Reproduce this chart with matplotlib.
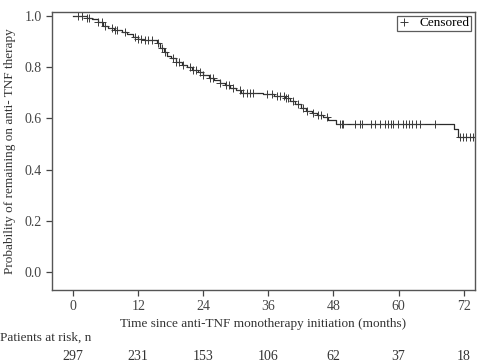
import numpy as np
import matplotlib
matplotlib.use('Agg')
import matplotlib.pyplot as plt

# Kaplan-Meier step data (time in months, survival after the step)
event_times = [0, 2.5, 3.5, 4.5, 5.5, 6.5, 7.5, 9, 10, 11, 12, 13, 15.5, 16, 16.7, 17.3,
               18, 19, 20, 21, 22, 23, 24, 25, 26, 27, 28, 29, 30, 31, 35, 37, 39, 40,
               41, 42, 43, 44, 45, 46, 47, 48.5, 70.2, 71]
survival = [1.0, 0.993, 0.987, 0.975, 0.962, 0.955, 0.945, 0.937, 0.93, 0.92, 0.91, 0.905,
            0.895, 0.875, 0.86, 0.845, 0.835, 0.822, 0.81, 0.80, 0.79, 0.78, 0.77, 0.76,
            0.75, 0.74, 0.73, 0.72, 0.71, 0.70, 0.695, 0.688, 0.68, 0.67, 0.655, 0.64,
            0.63, 0.622, 0.614, 0.605, 0.595, 0.578, 0.56, 0.527]
end_time = 74

censor_times = [0.9, 1.7, 2.6, 3.0, 4.6, 5.3, 5.9, 7.2, 7.7, 8.1, 9.6, 11.4, 12.0, 12.6,
                13.2, 13.8, 14.5, 15.7, 16.4, 16.9, 18.4, 19.0, 19.6, 20.3, 21.5, 22.1,
                22.7, 23.3, 24.0, 25.2, 25.8, 27.0, 28.2, 28.8, 29.5, 30.8, 31.4, 32.0,
                32.6, 33.1, 35.7, 36.6, 37.5, 38.2, 38.8, 39.3, 39.6, 40.5, 41.4, 42.3,
                43.2, 44.2, 45.1, 45.7, 46.8, 49.2, 49.5, 49.8, 51.9, 52.9, 53.2, 55.0,
                55.6, 56.5, 57.5, 58.1, 58.7, 59.0, 59.9, 60.8, 61.4, 62.0, 62.5, 63.3,
                63.9, 66.7, 71.3, 71.9, 72.5, 73.1, 73.7]

risk_times = [0, 12, 24, 36, 48, 60, 72]
at_risk = [297, 231, 153, 106, 62, 37, 18]

plt.rcParams['font.family'] = ['Liberation Serif', 'DejaVu Serif']

fig = plt.figure(figsize=(4.79, 3.62), dpi=100)
ax = fig.add_axes([0.1086, 0.1989, 0.883, 0.768])

line_col = '#2b2b2b'
xs = list(event_times) + [end_time]
ys = list(survival) + [survival[-1]]
ax.step(xs, ys, where='post', color=line_col, lw=0.9)

# censor marks sit on the curve
idx = np.searchsorted(event_times, censor_times, side='right') - 1
cens_y = np.array(survival)[idx]
ax.plot(censor_times, cens_y, ls='none', marker='+', ms=6, mew=0.7,
        color='#3a3a3a', label='Censored')

ax.set_xlim(-3.9, 74.1)
ax.set_ylim(-0.07, 1.016)
ax.set_xticks(risk_times)
ax.set_yticks([0.0, 0.2, 0.4, 0.6, 0.8, 1.0])
ax.yaxis.set_major_formatter(matplotlib.ticker.FormatStrFormatter('%.1f'))
ax.tick_params(labelsize=10, colors='#444444', direction='out', length=4, width=0.9)
for s in ax.spines.values():
    s.set_color('#555555')
    s.set_linewidth(1.0)

ax.set_xlabel('Time since anti-TNF monotherapy initiation (months)', fontsize=9.5,
              color='#333333', labelpad=3)
ax.set_ylabel('Probability of remaining on anti- TNF therapy', fontsize=9.5,
              color='#333333', labelpad=6)

leg = ax.legend(loc='upper right', fontsize=9.5, frameon=True, fancybox=False,
                handlelength=0.8, handletextpad=0.8, borderpad=0.1,
                borderaxespad=0.3, markerscale=1.0)
leg.get_frame().set_edgecolor('#333333')
leg.get_frame().set_linewidth(0.9)

trans = ax.get_xaxis_transform()
fig.text(0.0, 0.058, 'Patients at risk, n', fontsize=9.5, color='#333333')
for t, n in zip(risk_times, at_risk):
    ax.text(t, -0.24, str(n), transform=trans, ha='center', va='center',
            fontsize=10, color='#333333', clip_on=False)

fig.savefig('out.png', dpi=100)
